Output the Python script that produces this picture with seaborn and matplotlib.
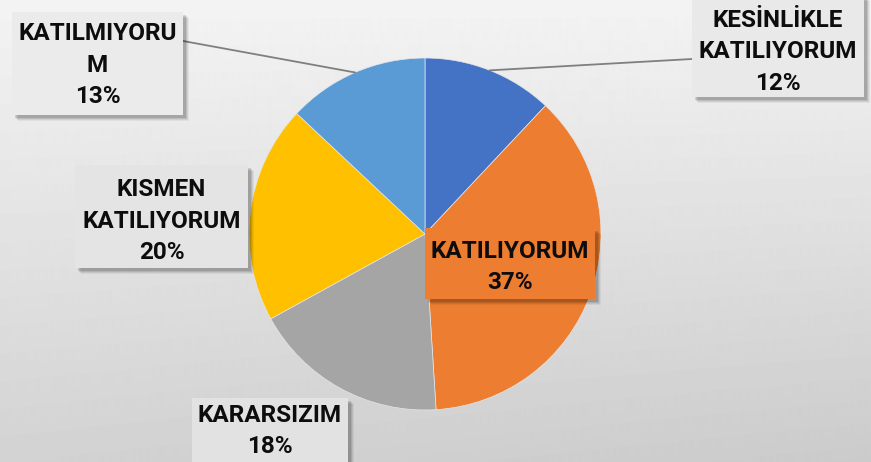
import numpy as np
import seaborn as sns
import matplotlib.pyplot as plt
from matplotlib.patches import Rectangle

# chart data
categories = ["KESİNLİKLE\nKATILIYORUM", "KATILIYORUM", "KARARSIZIM",
              "KISMEN\nKATILIYORUM", "KATILMIYORU\nM"]
values = [12, 37, 18, 20, 13]
colors = ["#4472C4", "#ED7D31", "#A5A5A5", "#FFC000", "#5B9BD5"]

sns.set_theme(style="white")
plt.rcParams['font.family'] = ['Roboto', 'DejaVu Sans']

W, H = 871, 462
fig = plt.figure(figsize=(W / 100, H / 100), dpi=100)
ax = fig.add_axes([0, 0, 1, 1])

# soft gray background gradient
yy, xx = np.mgrid[0:H, 0:W]
bg = 0.955 - 0.13 * (yy / H) - 0.03 * (xx / W) * (yy / H)
ax.imshow(bg, cmap="gray", vmin=0, vmax=1, extent=(0, W, H, 0), zorder=0)

# pie (y axis inverted, so counterclock=True draws clockwise on screen)
cx, cy, r = 425, 234, 176
wedges, _ = ax.pie(values, colors=sns.color_palette(colors), startangle=-90,
                   counterclock=True, center=(cx, cy), radius=r,
                   wedgeprops=dict(edgecolor="#e6e6e6", linewidth=0.5),
                   frame=True)
for w in wedges:
    w.set_zorder(2)

ax.set_xlim(0, W)
ax.set_ylim(H, 0)
ax.set_aspect("auto")
ax.axis("off")


def mid_edge(i):
    t = np.deg2rad((wedges[i].theta1 + wedges[i].theta2) / 2)
    return cx + r * np.cos(t), cy + r * np.sin(t)


def box(x0, y0, x1, y1, face, text, tcy):
    for k, a in [(6, 0.05), (5, 0.07), (4, 0.09), (3, 0.12)]:
        ax.add_patch(Rectangle((x0 + k, y0 + k), x1 - x0, y1 - y0,
                               facecolor="black", alpha=a, lw=0, zorder=4))
    ax.add_patch(Rectangle((x0, y0), x1 - x0, y1 - y0, facecolor=face,
                           lw=0, zorder=5))
    ax.text((x0 + x1) / 2, tcy, text, ha="center", va="center",
            fontsize=17.5, fontweight="bold", color="#0d0d0d",
            linespacing=1.45, zorder=6)


labels = [f"{c}\n{v}%" for c, v in zip(categories, values)]

# leader lines
x, y = mid_edge(0)
ax.plot([x, 692], [y, 59], color="#7f7f7f", lw=1.3, zorder=3)
x, y = mid_edge(4)
ax.plot([x, 183], [y, 41], color="#7f7f7f", lw=1.3, zorder=3)

box(692, -5, 864, 97, "#e9e9e9", labels[0], 52)
box(425, 228, 595, 299, colors[1], labels[1], 267)
box(192, 398, 348, 470, "#e2e2e2", labels[2], 431)
box(75, 165, 248, 268, "#e4e4e4", labels[3], 221)
box(12, 12, 183, 115, "#ebebeb", labels[4], 65)

fig.savefig("out.png", dpi=100)
